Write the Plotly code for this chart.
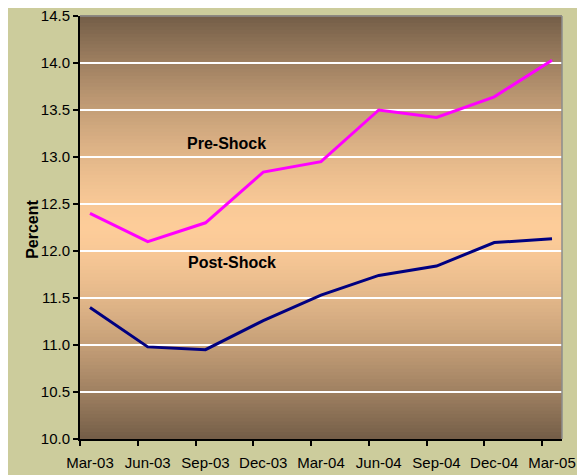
import plotly.graph_objects as go

# quarters and the two series (percent)
quarters = ["Mar-03", "Jun-03", "Sep-03", "Dec-03", "Mar-04",
            "Jun-04", "Sep-04", "Dec-04", "Mar-05"]
pre_shock = [12.40, 12.10, 12.30, 12.84, 12.95, 13.50, 13.42, 13.64, 14.03]
post_shock = [11.40, 10.98, 10.95, 11.26, 11.53, 11.74, 11.84, 12.09, 12.13]

y_ticks = [10.0, 10.5, 11.0, 11.5, 12.0, 12.5, 13.0, 13.5, 14.0, 14.5]

font_name = "Liberation Sans, Arial, sans-serif"
paper_col = "rgb(204,204,156)"
edge_col = (115, 93, 71)
mid_col = (253, 204, 153)

x_pos = list(range(len(quarters)))

fig = go.Figure()

fig.add_trace(go.Scatter(x=x_pos, y=pre_shock, mode="lines", name="Pre-Shock",
                         line=dict(color="#FF00FF", width=3)))
fig.add_trace(go.Scatter(x=x_pos, y=post_shock, mode="lines", name="Post-Shock",
                         line=dict(color="#000080", width=3)))

# gradient background of the plot area: dark at the edges, tan in the middle
shapes = []
n_bands = 120
for k in range(n_bands):
    y0 = k / n_bands
    y1 = (k + 1) / n_bands
    t = 1 - abs((y0 + y1) / 2 - 0.5) * 2
    t = 1 - (1 - t) ** 1.5
    c = tuple(int(round(edge_col[j] + (mid_col[j] - edge_col[j]) * t)) for j in range(3))
    shapes.append(dict(type="rect", xref="x domain", yref="y domain",
                       x0=0, x1=1, y0=y0, y1=y1 + 0.002, layer="below",
                       line=dict(width=0), fillcolor="rgb(%d,%d,%d)" % c))

# thin grey border on top and right
shapes.append(dict(type="line", xref="x domain", yref="y domain", x0=0, x1=1, y0=1, y1=1,
                   line=dict(color="#8C8C8C", width=1.5), layer="above"))
shapes.append(dict(type="line", xref="x domain", yref="y domain", x0=1, x1=1, y0=0, y1=1,
                   line=dict(color="#8C8C8C", width=1.5), layer="above"))

# page body has an 8px margin, so the figure is a bit smaller than the window
fig.update_layout(
    width=577, height=467,
    margin=dict(l=72, r=23, t=8, b=36),
    paper_bgcolor=paper_col,
    plot_bgcolor=paper_col,
    showlegend=False,
    font=dict(family=font_name, color="black"),
    shapes=shapes,
    annotations=[
        dict(text="<b>Pre-Shock</b>", x=2.36, y=13.14, xref="x", yref="y",
             showarrow=False, font=dict(size=16, family=font_name, color="black")),
        dict(text="<b>Post-Shock</b>", x=2.455, y=11.88, xref="x", yref="y",
             showarrow=False, font=dict(size=16, family=font_name, color="black")),
        dict(text="<b>Percent</b>", x=-0.12, y=0.496, xref="paper", yref="paper",
             textangle=-90, showarrow=False,
             font=dict(size=16, family=font_name, color="black")),
    ],
)

fig.update_xaxes(
    range=[-0.173, 8.173], automargin=False,
    tickmode="array", tickvals=x_pos, ticktext=quarters,
    ticks="", tickfont=dict(size=15),
    showgrid=False, zeroline=False,
    showline=True, linecolor="black", linewidth=2,
    minor=dict(ticks="outside", ticklen=5, tickwidth=1.5, tickcolor="black",
               tick0=-0.173, dtick=1, showgrid=False),
    ticklabelstandoff=9,
)

fig.update_yaxes(
    range=[10, 14.5], automargin=False,
    tickmode="array", tickvals=y_ticks, ticktext=["%.1f" % v for v in y_ticks],
    ticks="outside", ticklen=5, tickwidth=1.5, tickcolor="black",
    tickfont=dict(size=15), ticklabeloverflow="allow",
    showgrid=True, gridcolor="white", gridwidth=1.5,
    zeroline=False,
    showline=True, linecolor="black", linewidth=2,
)

fig.write_html("out.html")
